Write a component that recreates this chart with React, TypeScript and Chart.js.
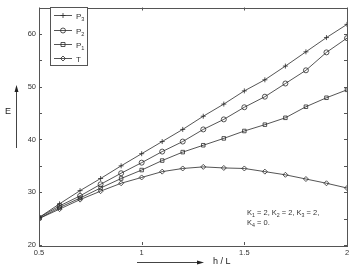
import React, { useEffect, useRef } from "react";
import { Chart, registerables } from "chart.js";

Chart.register(...registerables);

const hOverL = [0.5, 0.6, 0.7, 0.8, 0.9, 1.0, 1.1, 1.2, 1.3, 1.4, 1.5, 1.6, 1.7, 1.8, 1.9, 2.0];
const P3 = [25.2, 27.8, 30.3, 32.6, 35.0, 37.3, 39.6, 41.9, 44.4, 46.7, 49.2, 51.3, 53.9, 56.6, 59.3, 61.8];
const P2 = [25.2, 27.4, 29.3, 31.5, 33.6, 35.6, 37.7, 39.6, 41.9, 43.8, 46.1, 48.1, 50.6, 53.1, 56.5, 59.2];
const P1 = [25.0, 27.1, 28.9, 30.8, 32.6, 34.2, 36.0, 37.6, 38.9, 40.2, 41.6, 42.8, 44.1, 46.2, 47.9, 49.4];
const T = [25.0, 26.8, 28.6, 30.2, 31.7, 32.8, 33.9, 34.5, 34.8, 34.6, 34.5, 33.9, 33.3, 32.5, 31.7, 30.8];

const xTicks = [0.5, 1, 1.5, 2];
const yTicks = [20, 30, 40, 50, 60];

const FONT = "'Liberation Sans', Arial, Helvetica, sans-serif";
const LINE = "#2a2a2a";
const AXIS = "#555";
const TEXT = "#333";

type Seg = [string, boolean];

function drawSub(ctx: CanvasRenderingContext2D, x: number, y: number, segs: Seg[], size: number) {
  let cx = x;
  ctx.textBaseline = "alphabetic";
  ctx.textAlign = "left";
  for (const [t, sub] of segs) {
    ctx.font = `${sub ? size * 0.7 : size}px ${FONT}`;
    ctx.fillText(t, cx, sub ? y + size * 0.3 : y);
    cx += ctx.measureText(t).width;
  }
}

const seriesDefs = [
  { name: "3", data: P3, style: "cross" },
  { name: "2", data: P2, style: "circle" },
  { name: "1", data: P1, style: "rect" },
  { name: "", data: T, style: "rectRot" },
];

function drawMarker(ctx: CanvasRenderingContext2D, style: string, x: number, y: number, r: number) {
  ctx.beginPath();
  if (style === "cross") {
    ctx.moveTo(x - r, y);
    ctx.lineTo(x + r, y);
    ctx.moveTo(x, y - r);
    ctx.lineTo(x, y + r);
  } else if (style === "circle") {
    ctx.arc(x, y, r, 0, Math.PI * 2);
  } else if (style === "rect") {
    ctx.rect(x - r * 0.8, y - r * 0.8, r * 1.6, r * 1.6);
  } else {
    ctx.moveTo(x, y - r);
    ctx.lineTo(x + r, y);
    ctx.lineTo(x, y + r);
    ctx.lineTo(x - r, y);
    ctx.closePath();
  }
  ctx.stroke();
}

const decor = {
  id: "decor",
  afterDraw(chart: any) {
    const ctx: CanvasRenderingContext2D = chart.ctx;
    const a = chart.chartArea;
    const xs = chart.scales.x;
    const ys = chart.scales.y;
    ctx.save();
    // box
    ctx.strokeStyle = AXIS;
    ctx.lineWidth = 1;
    ctx.strokeRect(Math.round(a.left) + 0.5, Math.round(a.top) + 0.5, Math.round(a.right - a.left), Math.round(a.bottom - a.top));
    // ticks
    ctx.beginPath();
    for (let v = 20; v <= 65; v += 5) {
      const py = Math.round(ys.getPixelForValue(v)) + 0.5;
      ctx.moveTo(a.left, py);
      ctx.lineTo(a.left + 3, py);
      ctx.moveTo(a.right, py);
      ctx.lineTo(a.right - 3, py);
    }
    for (const v of xTicks) {
      const px = Math.round(xs.getPixelForValue(v)) + 0.5;
      ctx.moveTo(px, a.bottom);
      ctx.lineTo(px, a.bottom - 3);
      ctx.moveTo(px, a.top);
      ctx.lineTo(px, a.top + 3);
    }
    ctx.stroke();

    // legend
    const lx = 50, ly = 7, lw = 37, lh = 58;
    ctx.fillStyle = "#fff";
    ctx.fillRect(lx, ly, lw, lh);
    ctx.strokeStyle = AXIS;
    ctx.strokeRect(lx + 0.5, ly + 0.5, lw, lh);
    const rows = [15, 30, 44, 58];
    seriesDefs.forEach((s, i) => {
      const y = rows[i] + 0.5;
      ctx.strokeStyle = LINE;
      ctx.lineWidth = 0.8;
      ctx.beginPath();
      ctx.moveTo(54, y);
      ctx.lineTo(72, y);
      ctx.stroke();
      drawMarker(ctx, s.style, 63, y, 2.5);
      ctx.fillStyle = TEXT;
      if (s.name) drawSub(ctx, 76, y + 3, [["P", false], [s.name, true]], 8);
      else drawSub(ctx, 76, y + 3, [["T", false]], 8);
    });

    // annotation
    ctx.fillStyle = TEXT;
    drawSub(ctx, 247, 215, [["K", false], ["1", true], [" = 2, K", false], ["2", true], [" = 2, K", false], ["3", true], [" = 2,", false]], 7.5);
    drawSub(ctx, 247, 225, [["K", false], ["4", true], [" = 0.", false]], 7.5);

    // axis labels with arrows
    ctx.strokeStyle = "#444";
    ctx.fillStyle = "#222";
    ctx.lineWidth = 1;
    ctx.beginPath();
    ctx.moveTo(16.5, 148);
    ctx.lineTo(16.5, 90);
    ctx.stroke();
    ctx.beginPath();
    ctx.moveTo(16.5, 85);
    ctx.lineTo(14.5, 92);
    ctx.lineTo(18.5, 92);
    ctx.closePath();
    ctx.fill();
    ctx.font = `9px ${FONT}`;
    ctx.textAlign = "left";
    ctx.textBaseline = "middle";
    ctx.fillText("E", 5, 112);

    ctx.beginPath();
    ctx.moveTo(137, 262.5);
    ctx.lineTo(198, 262.5);
    ctx.stroke();
    ctx.beginPath();
    ctx.moveTo(204, 262.5);
    ctx.lineTo(197, 260.5);
    ctx.lineTo(197, 264.5);
    ctx.closePath();
    ctx.fill();
    ctx.fillText("h / L", 213, 262);
    ctx.restore();
  },
};

export default function App() {
  const ref = useRef<HTMLCanvasElement>(null);
  useEffect(() => {
    if (!ref.current) return;
    const chart = new Chart(ref.current, {
      type: "line",
      data: {
        datasets: seriesDefs.map((s) => ({
          label: s.name ? "P" + s.name : "T",
          data: hOverL.map((x, i) => ({ x, y: s.data[i] })),
          borderColor: LINE,
          borderWidth: 0.8,
          pointStyle: s.style as any,
          pointRadius: 2.5,
          pointBorderWidth: 0.8,
          pointBorderColor: LINE,
          pointBackgroundColor: "rgba(0,0,0,0)",
          tension: 0,
          fill: false,
        })),
      },
      options: {
        responsive: false,
        animation: false,
        layout: { padding: { top: 2, right: 7, left: 0, bottom: 0 } },
        plugins: { legend: { display: false }, tooltip: { enabled: false } },
        scales: {
          x: {
            type: "linear",
            min: 0.5,
            max: 2,
            afterFit: (s: any) => { s.height = 26; },
            afterBuildTicks: (s: any) => { s.ticks = xTicks.map((v) => ({ value: v })); },
            grid: { display: false, drawTicks: false },
            border: { display: false },
            ticks: {
              padding: 3,
              color: TEXT,
              font: { family: FONT, size: 7.5 },
              maxRotation: 0,
              callback: (v: any) => String(v),
            },
          },
          y: {
            type: "linear",
            min: 20,
            max: 65,
            afterFit: (s: any) => { s.width = 39; },
            afterBuildTicks: (s: any) => { s.ticks = yTicks.map((v) => ({ value: v })); },
            grid: { display: false, drawTicks: false },
            border: { display: false },
            ticks: {
              padding: 3,
              color: TEXT,
              font: { family: FONT, size: 7.5 },
              callback: (v: any) => String(v),
            },
          },
        },
      },
      plugins: [decor],
    });
    return () => chart.destroy();
  }, []);
  return (
    <div style={{ position: "fixed", left: 0, top: 0, width: 354, height: 271, background: "#fff" }}>
      <canvas ref={ref} width={354} height={271} style={{ width: 354, height: 271, display: "block" }} />
    </div>
  );
}
